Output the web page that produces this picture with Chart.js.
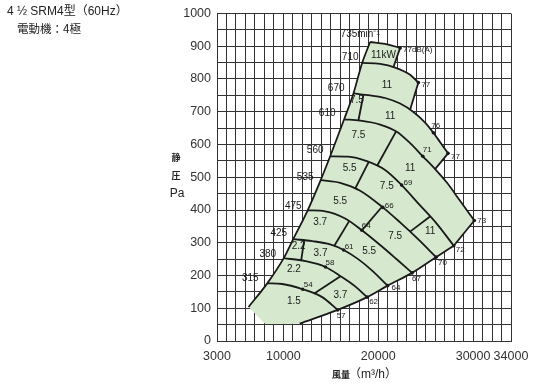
<!DOCTYPE html>
<html><head><meta charset="utf-8">
<script src="https://cdn.jsdelivr.net/npm/chart.js@4/dist/chart.umd.min.js"></script>
<style>html,body{margin:0;padding:0;background:#fff;}#wrap{width:550px;height:386px;position:relative;}</style>
</head><body><div id="wrap"><canvas id="c" width="550" height="386"></canvas></div>
<script>
// ---------- data ----------
const xTickLabels = [3000, 10000, 20000, 30000, 34000];
const leftBoundary = [[6328,104],[8298,176],[10036,253],[11037,311],[12564,399],[13933,491],[14934,564],[16408,677],[17388,756],[18304,849],[19147,913]];
const rpm315 = [[8298,176],[9878,174],[12037,158],[14091,134],[15724,95]];
const rpm380 = [[10036,253],[12301,244],[14439,226],[16019,198],[17599,166],[18831,134]];
const rpm425 = [[11037,311],[13038,305],[14934,295],[16356,278],[17883,250],[19358,215],[20990,169]];
const rpm475 = [[12564,399],[14407,396],[16514,374],[18273,338],[20200,293],[21886,251],[23571,208]];
const rpm535 = [[13933,491],[15987,483],[18094,459],[20485,408],[22307,362],[24203,311],[26099,256]];
const rpm560 = [[14934,564],[16830,563],[18800,549],[20727,522],[22465,476],[24414,414],[26204,357],[27963,291]];
const rpm610 = [[16408,677],[18094,673],[20200,661],[21959,639],[23360,604],[24698,564],[25994,525],[27258,483],[28627,428],[30133,368]];
const rpm670 = [[17388,756],[19147,750],[20727,742],[22307,725],[23676,700],[24940,667],[25815,636],[26626,603],[27363,573]];
const rpm710 = [[18304,849],[20200,846],[21780,835],[23360,813],[24235,789]];
const rpm735 = [[19147,913],[20727,907],[22307,895]];
const systemLine = [[11721,53],[15724,95],[18831,134],[20990,169],[23571,208],[26099,256],[27963,291]];
const edgeLines = [[[22307,895],[21601,836]],[[24235,789],[23360,706]],[[27363,573],[25994,525]],[[30133,368],[27963,291]]];
const kwLines = [[[18442,752],[17915,674]],[[21886,640],[19884,535]],[[18989,546],[17567,465]],[[25467,380],[23360,334]],
                 [[20400,410],[18273,338]],[[16935,366],[15355,290]],[[12195,307],[11879,247]],[[16019,198],[13217,144]]];
const fillCorner = [[8100,52]];
const dbPoints = [[12037,158,'54'],[14439,226,'58'],[16356,278,'61'],[18273,338,'64'],[20485,408,'66'],[22465,476,'69'],[24698,564,'71'],[25815,636,'76'],
                  [15724,95,'57'],[18831,134,'62'],[20990,169,'64'],[23571,208,'67'],[26099,256,'70'],[27963,291,'72'],[30133,368,'73'],[27363,573,'77'],[24235,789,'77'],[22307,895,'77dB(A)']];
const kwLabels = [[20548,872,'11kW'],[20906,781,'11'],[17746,734,'7.5'],[21254,686,'11'],[17915,628,'7.5'],[23360,527,'11'],
                  [16988,528,'5.5'],[20906,471,'7.5'],[25467,334,'11'],[15987,428,'5.5'],[21780,319,'7.5'],[13880,363,'3.7'],
                  [19041,275,'5.5'],[11616,289,'2.2'],[13912,269,'3.7'],[11110,219,'2.2'],[16019,139,'3.7'],[11110,122,'1.5']];
const rpmLabels = [[6508,191,'315'],[8351,266,'380'],[9509,328,'425'],[11037,411,'475'],[12301,501,'535'],[13354,582,'560'],
                   [14618,694,'610'],[15566,771,'670'],[17041,867,'710'],[18094,938,'735min⁻¹']];

// ---------- styles (pixel offsets for dB labels) ----------
const dbOffsets = [[1,-4],[0,-4],[1,-3],[0,-5],[2,-2],[2,-2],[0,-6],[-2,-7],[-1,6],[2,5],[4,2],[0,6],[2,6],[2,4],[3,0],[3,3],[3,2],[3,2]];
const SANS = '"Liberation Sans", Arial, Helvetica, sans-serif';
const MIX = '"Liberation Sans", "Noto Sans CJK JP", sans-serif';
const CJK = '"Noto Sans CJK JP", "Noto Sans CJK SC", sans-serif';
const INK = '#1a1a1a';

const toXY = a => a.map(p => ({x:p[0], y:p[1]}));
function lineDs(arr, smooth){
  return {data: toXY(arr), showLine:true, borderColor:INK, borderWidth:1.8, pointRadius:0,
          tension: smooth ? 0.4 : 0, cubicInterpolationMode: smooth ? 'monotone' : 'default', fill:false};
}
const datasets = [];
[leftBoundary, rpm315, rpm380, rpm425, rpm475, rpm535, rpm560, rpm610, rpm670, rpm710, rpm735, systemLine].forEach(a => datasets.push(lineDs(a, true)));
edgeLines.concat(kwLines).forEach(a => datasets.push(lineDs(a, false)));
datasets.push({data: dbPoints.map(p => ({x:p[0], y:p[1]})), showLine:false, pointRadius:1.8, pointBackgroundColor:INK, pointBorderWidth:0});

// fill polygon built from the curves
const fillPoly = [].concat(
  leftBoundary,
  rpm735.slice(1),
  [edgeLines[0][1]], rpm710.filter(p => p[0] > 21601),
  [edgeLines[1][1]], rpm670.filter(p => p[0] > 23360),
  [edgeLines[2][1]], rpm610.filter(p => p[0] > 25994),
  systemLine.slice().reverse(),
  fillCorner
);

const paper = {
  id:'paper',
  beforeDatasetsDraw(chart){
    const {ctx, chartArea:a, scales:{x, y}} = chart;
    ctx.save();
    ctx.beginPath(); ctx.rect(a.left, a.top, a.right-a.left, a.bottom-a.top); ctx.clip();
    ctx.beginPath();
    fillPoly.forEach((p,i) => { const px = x.getPixelForValue(p[0]), py = y.getPixelForValue(p[1]); i ? ctx.lineTo(px,py) : ctx.moveTo(px,py); });
    ctx.closePath();
    ctx.fillStyle = '#d6e8ce';
    ctx.fill();
    ctx.restore();
  },
  afterDraw(chart){
    const {ctx, scales:{x, y}} = chart;
    ctx.save();
    ctx.fillStyle = INK;
    ctx.textBaseline = 'middle';
    ctx.textAlign = 'center';
    ctx.font = '10px ' + SANS;
    rpmLabels.forEach(l => ctx.fillText(l[2], x.getPixelForValue(l[0]), y.getPixelForValue(l[1])));
    ctx.font = '10px ' + SANS;
    kwLabels.forEach(l => ctx.fillText(l[2], x.getPixelForValue(l[0]), y.getPixelForValue(l[1])));
    ctx.textAlign = 'left';
    ctx.font = '8px ' + SANS;
    dbPoints.forEach((p,i) => ctx.fillText(p[2], x.getPixelForValue(p[0]) + dbOffsets[i][0], y.getPixelForValue(p[1]) + dbOffsets[i][1]));
    // titles
    ctx.fillStyle = '#222';
    ctx.font = '12px ' + MIX;
    ctx.fillText('4 ½ SRM4型（60Hz）', 7, 12);
    ctx.font = '11.5px ' + CJK;
    ctx.fillText('電動機：4極', 17, 29);
    // y axis title
    ctx.textAlign = 'center';
    ctx.font = 'bold 9px ' + CJK;
    ctx.fillText('静', 176, 158);
    ctx.fillText('圧', 176, 176);
    ctx.font = '12px ' + SANS;
    ctx.fillText('Pa', 177, 194);
    // x axis title
    ctx.textAlign = 'left';
    ctx.font = 'bold 9px ' + CJK;
    ctx.fillText('風量', 332, 375);
    ctx.font = '12px ' + MIX;
    ctx.fillText('（m³/h）', 349, 375);
    ctx.restore();
  }
};

new Chart(document.getElementById('c'), {
  type:'scatter',
  data:{datasets},
  plugins:[paper],
  options:{
    responsive:false, animation:false, events:[],
    layout:{padding:{left:0, right:39, top:8, bottom:0}},
    plugins:{legend:{display:false}, tooltip:{enabled:false}},
    scales:{
      x:{type:'linear', min:3000, max:34000, z:1,
         grid:{color:'#333', lineWidth:1, drawTicks:false},
         border:{color:'#333', width:1},
         ticks:{stepSize:1000, autoSkip:false, maxRotation:0, padding:8, color:'#333', font:{family:SANS, size:12.5},
                callback:v => xTickLabels.includes(v) ? String(v) : ''},
         afterFit:s => { s.height = 45; }},
      y:{type:'linear', min:0, max:1000, z:1,
         grid:{color:'#333', lineWidth:1, drawTicks:false},
         border:{color:'#333', width:1},
         ticks:{stepSize:50, autoSkip:false, padding:6, color:'#333', font:{family:SANS, size:12.5},
                callback:v => (v % 100 === 0) ? String(v) : ''},
         afterFit:s => { s.height; s.width = 217; }}
    }
  }
});
</script></body></html>
